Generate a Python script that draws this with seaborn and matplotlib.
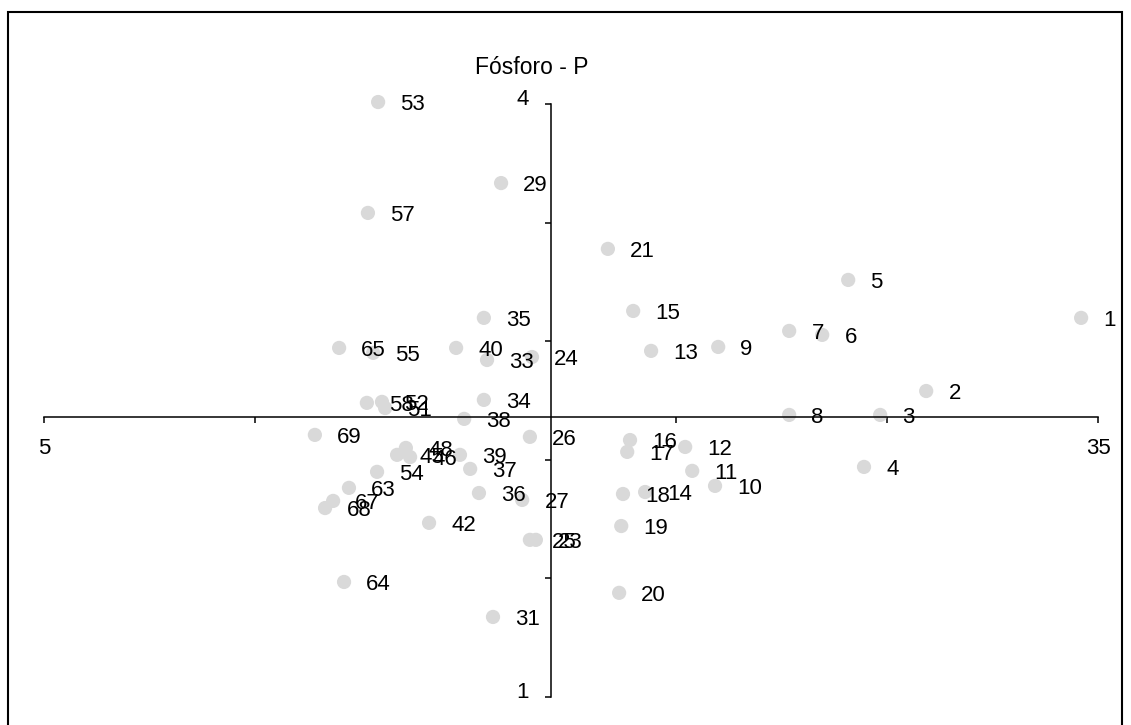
import matplotlib
matplotlib.use("Agg")
import matplotlib.pyplot as plt
import seaborn as sns
import pandas as pd
from matplotlib.patches import Rectangle
from matplotlib.transforms import ScaledTranslation

# ---- data ----
labels = ["1", "2", "3", "4", "5", "6", "7", "8", "9", "10",
          "11", "12", "13", "14", "15", "16", "17", "18", "19", "20",
          "21", "23", "24", "25", "26", "27", "29", "31", "33", "34",
          "35", "36", "37", "38", "39", "40", "42", "45", "46", "48",
          "51", "52", "53", "54", "55", "57", "58", "63", "64", "65",
          "67", "68", "69"]
x_vals = [34.52, 30.11, 28.80, 28.34, 27.89, 27.15, 26.21, 26.21, 24.19, 24.10,
          23.45, 23.25, 22.28, 22.11, 21.77, 21.68, 21.60, 21.48, 21.43, 21.37,
          21.05, 19.00, 18.89, 18.83, 18.83, 18.61, 18.01, 17.78, 17.61, 17.52,
          17.52, 17.38, 17.13, 16.96, 16.84, 16.73, 15.96, 15.05, 15.42, 15.30,
          14.71, 14.62, 14.51, 14.48, 14.37, 14.22, 14.19, 13.68, 13.54, 13.40,
          13.23, 13.00, 12.71]
p_vals = [2.918, 2.548, 2.427, 2.164, 3.110, 2.832, 2.852, 2.427, 2.771, 2.068,
          2.144, 2.265, 2.751, 2.037, 2.953, 2.300, 2.240, 2.027, 1.865, 1.527,
          3.267, 1.795, 2.720, 1.795, 2.316, 1.997, 3.600, 1.405, 2.705, 2.503,
          2.918, 2.032, 2.154, 2.407, 2.225, 2.766, 1.881, 2.225, 2.214, 2.260,
          2.462, 2.493, 4.010, 2.139, 2.741, 3.449, 2.488, 2.058, 1.582, 2.766,
          1.992, 1.956, 2.326]
x_ticks = [5, 11, 17, 23, 29, 35]
x_tick_labels = ["5", "", "", "", "", "35"]
y_ticks = [1.0, 1.6, 2.2, 2.8, 3.4, 4.0]
y_tick_labels = ["1", "", "", "", "", "4"]
title = "Fósforo - P"
x_cross = 19.43
y_cross = 2.417

sns.set_theme(style="white")
plt.rcParams['font.family'] = ['Liberation Sans', 'DejaVu Sans']
plt.rcParams['text.color'] = 'black'
plt.rcParams['xtick.color'] = 'black'
plt.rcParams['ytick.color'] = 'black'
plt.rcParams['xtick.labelcolor'] = 'black'
plt.rcParams['ytick.labelcolor'] = 'black'

FS = 16

W, H = 1131, 725
fig = plt.figure(figsize=(W / 100, H / 100), dpi=100)
fig.patch.set_facecolor("white")

top_px, bot_px = 104, 697
left_px, right_px = 44, 1098
ax = fig.add_axes([left_px / W, (H - bot_px) / H, (right_px - left_px) / W, (bot_px - top_px) / H])
ax.set_facecolor("none")

df = pd.DataFrame({"x": x_vals, "p": p_vals, "label": labels})
sns.scatterplot(data=df, x="x", y="p", ax=ax, s=105, color="#d9d9d9",
                edgecolor="none", linewidth=0, clip_on=False, legend=False, zorder=1)

for _, r in df.iterrows():
    ax.annotate(r["label"], (r["x"], r["p"]), xytext=(16, -2), textcoords="offset points",
                ha="left", va="center", fontsize=FS, color="black",
                annotation_clip=False, zorder=5)

ax.set_xlim(5, 35)
ax.set_ylim(1, 4)
ax.set_xlabel("")
ax.set_ylabel("")

for s in ["top", "right"]:
    ax.spines[s].set_visible(False)
ax.spines["left"].set_position(("data", x_cross))
ax.spines["bottom"].set_position(("data", y_cross))
for s in ["left", "bottom"]:
    ax.spines[s].set_color("black")
    ax.spines[s].set_linewidth(1.1)
    ax.spines[s].set_zorder(3)

ax.set_xticks(x_ticks)
ax.set_xticklabels(x_tick_labels)
ax.set_yticks(y_ticks)
ax.set_yticklabels(y_tick_labels)
ax.tick_params(axis="x", direction="out", length=4, width=1.1, color="black",
               labelsize=FS, pad=11, bottom=True, labelcolor="black")
ax.tick_params(axis="y", direction="out", length=4, width=1.1, color="black",
               labelsize=FS, pad=12, left=True, labelcolor="black")
for lab in ax.get_yticklabels():
    lab.set_transform(lab.get_transform() + ScaledTranslation(0, 5 / 72, fig.dpi_scale_trans))

fig.text(532 / W, 1 - 68 / H, title, ha="center", va="center", fontsize=16.5, color="black")

fig.patches.append(Rectangle((8 / W, -0.05), (1122 - 8) / W, 1.05 - 12 / H,
                             transform=fig.transFigure, fill=False,
                             edgecolor="black", linewidth=1.5, zorder=0))

fig.savefig("out.png", dpi=100, facecolor="white")
